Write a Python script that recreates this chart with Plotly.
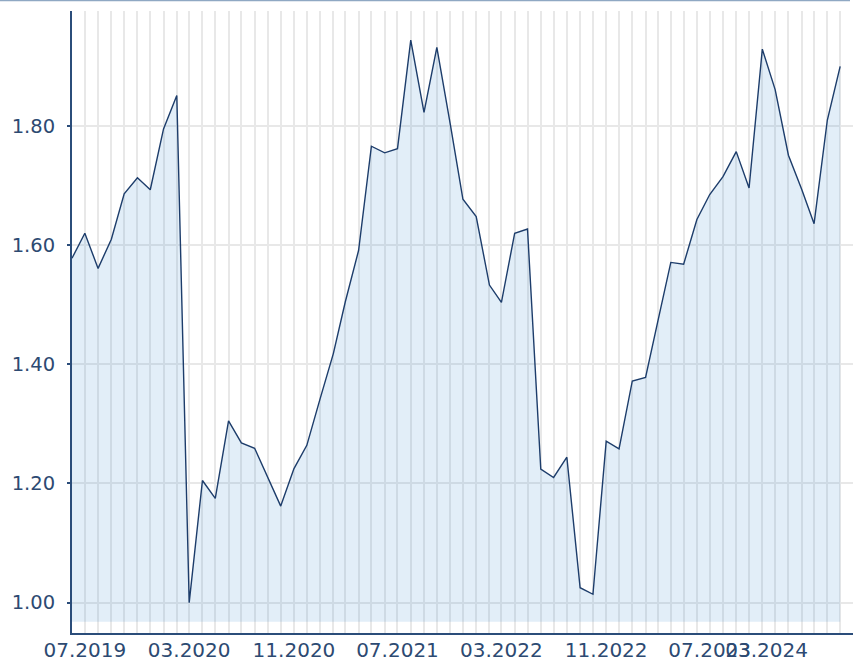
import pandas as pd
import plotly.graph_objects as go

# ---- data (monthly values) ----
months = pd.date_range("2019-06-01", periods=60, freq="MS")
values = [
    1.578, 1.620, 1.561, 1.610, 1.686, 1.713, 1.693, 1.795, 1.851, 1.000,
    1.205, 1.175, 1.305, 1.268, 1.259, 1.210, 1.162, 1.225, 1.264, 1.342,
    1.418, 1.505, 1.591, 1.766, 1.755, 1.762, 1.944, 1.823, 1.932, 1.805,
    1.677, 1.648, 1.533, 1.504, 1.620, 1.627, 1.224, 1.210, 1.244, 1.025,
    1.014, 1.271, 1.258, 1.372, 1.378, 1.470, 1.571, 1.568, 1.643, 1.685,
    1.715, 1.757, 1.696, 1.929, 1.861, 1.751, 1.694, 1.636, 1.810, 1.900,
]
# x tick labels (the last label sits shifted left in the reference, overlapping 07.2023)
tick_dates = ["2019-07-01", "2020-03-01", "2020-11-01", "2021-07-01",
              "2022-03-01", "2022-11-01", "2023-07-01", "2023-11-11"]
tick_labels = ["07.2019", "03.2020", "11.2020", "07.2021",
               "03.2022", "11.2022", "07.2023", "03.2024"]
y_ticks = [1.00, 1.20, 1.40, 1.60, 1.80]

# ---- styles ----
FILL_BASE = 0.968
Y_RANGE = [0.949, 1.993]
X_RANGE = ["2019-06-01", "2024-05-31"]
W, H = 854, 664
ML, MR, MT, MB = 72, 1, 11, 31
TXT = "#2d4a72"
AXIS = "#2b4d7a"
GRID = "#e8e8e8"
FONT = "DejaVu Sans"

fig = go.Figure()
fig.add_trace(go.Scatter(
    x=months, y=[FILL_BASE] * len(values), mode="lines",
    line=dict(width=0, color="rgba(0,0,0,0)"), hoverinfo="skip", showlegend=False,
))
fig.add_trace(go.Scatter(
    x=months, y=values, mode="lines", fill="tonexty",
    fillcolor="rgba(62,142,208,0.15)",
    line=dict(color="#1d3d6b", width=1.4), showlegend=False,
))

pw = W - ML - MR
ph = H - MT - MB
fig.add_shape(
    type="line", xref="paper", yref="paper",
    x0=-ML / pw, x1=(850 - ML) / pw,
    y0=1 + (MT - 0.5) / ph, y1=1 + (MT - 0.5) / ph,
    line=dict(color="#8fa8c3", width=1.5),
)

fig.update_layout(
    width=W, height=H,
    margin=dict(l=ML, r=MR, t=MT, b=MB, pad=0),
    paper_bgcolor="white", plot_bgcolor="white",
    showlegend=False,
    font=dict(family=FONT, color=TXT, size=20),
    xaxis=dict(
        type="date", range=X_RANGE,
        tickmode="array", tickvals=tick_dates, ticktext=tick_labels,
        tickangle=0,
        showgrid=False,
        minor=dict(tick0="2019-06-01", dtick="M1", showgrid=True,
                   gridcolor=GRID, gridwidth=1.5, ticks=""),
        showline=True, linecolor=AXIS, linewidth=2,
        ticks="", zeroline=False, automargin=False,
        tickfont=dict(family=FONT, size=20, color=TXT),
        ticklabelstandoff=-2,
    ),
    yaxis=dict(
        range=Y_RANGE, tickmode="array", tickvals=y_ticks,
        tickformat=".2f",
        showgrid=True, gridcolor=GRID, gridwidth=1.5,
        showline=True, linecolor=AXIS, linewidth=2,
        ticks="outside", ticklen=3, tickcolor=AXIS, tickwidth=1.5,
        zeroline=False, automargin=False, layer="below traces",
        tickfont=dict(family=FONT, size=19.5, color=TXT),
        ticklabelstandoff=8,
    ),
)

fig.write_html(
    "out.html",
    config={"displayModeBar": False},
    post_script="document.body.style.margin='0';document.body.style.overflow='hidden';",
)
